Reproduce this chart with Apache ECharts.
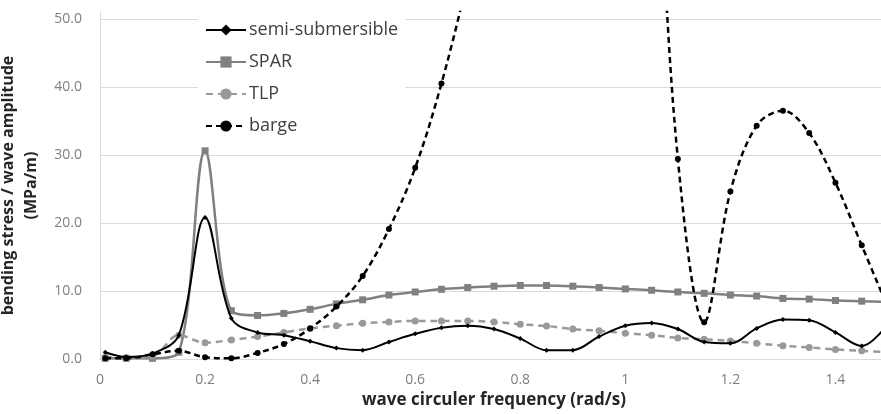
<!DOCTYPE html>
<html>
<head>
<meta charset="utf-8">
<script src="https://cdn.jsdelivr.net/npm/echarts@6/dist/echarts.min.js"></script>
<style>
html,body{margin:0;padding:0;background:#fff;}
#chart{width:881px;height:414px;}
</style>
</head>
<body>
<div id="chart"></div>
<script>
const freq = [0.01,0.05,0.1,0.15,0.2,0.25,0.3,0.35,0.4,0.45,0.5,0.55,0.6,0.65,0.7,0.75,0.8,0.85,0.9,0.95,1.0,1.05,1.1,1.15,1.2,1.25,1.3,1.35,1.4,1.45,1.5];
const semiSub = [1.0,0.3,0.8,3.5,20.8,6.0,3.9,3.5,2.6,1.6,1.3,2.5,3.7,4.6,4.9,4.4,3.0,1.3,1.3,3.3,4.9,5.3,4.4,2.5,2.3,4.5,5.8,5.7,3.9,1.9,5.2];
const spar = [0.1,0.1,0.1,1.0,30.6,7.1,6.4,6.7,7.3,8.1,8.7,9.4,9.85,10.25,10.5,10.7,10.8,10.8,10.7,10.5,10.3,10.1,9.85,9.65,9.4,9.25,8.9,8.8,8.6,8.5,8.4];
const tlp = [0.3,0.2,0.4,3.5,2.4,2.8,3.3,3.9,4.5,4.9,5.25,5.45,5.6,5.6,5.6,5.45,5.1,4.85,4.4,4.15,3.8,3.5,3.1,2.9,2.65,2.3,1.95,1.7,1.4,1.2,1.0];
const barge = [0.1,0.1,0.7,1.2,0.25,0.1,0.9,2.2,4.5,7.7,12.2,19.1,28.1,40.5,56,75,100,125,140,130,110,85,29.4,5.4,24.6,34.3,36.5,33.2,25.9,16.7,7.5];
const xTicks = {min:0, max:1.5, interval:0.2};
const yTicks = {min:0, max:51, interval:10};
const seriesNames = ['semi-submersible','SPAR','TLP','barge'];

function pairs(ys){ return freq.map((f,i)=>[f, ys[i]]); }

const chart = echarts.init(document.getElementById('chart'));
const font = "'Open Sans', 'Noto Sans', sans-serif";
chart.setOption({
  animation:false,
  backgroundColor:'#fff',
  grid:{left:100, width:788, top:12, height:347, containLabel:false, outerBoundsMode:'none'},
  legend:{
    orient:'vertical', left:198, top:13,
    padding:[8,7,8,7], itemGap:14, itemWidth:40, itemHeight:14,
    backgroundColor:'#fff',
    textStyle:{fontFamily:font, fontSize:18, color:'#404040', padding:[0,0,0,-2]},
    data:seriesNames
  },
  xAxis:{
    type:'value', min:xTicks.min, max:xTicks.max, interval:xTicks.interval,
    name:'wave circuler frequency (rad/s)', nameLocation:'middle', nameGap:33,
    nameTextStyle:{fontFamily:font, fontSize:17, fontWeight:'bold', color:'#262626'},
    axisLine:{show:true, lineStyle:{color:'#d9d9d9', width:1}},
    axisTick:{show:false},
    splitLine:{show:false},
    axisLabel:{fontFamily:font, fontSize:14, color:'#7f7f7f', margin:14, showMaxLabel:false,
      formatter:v=>String(Math.round(v*10)/10)}
  },
  yAxis:{
    type:'value', min:yTicks.min, max:yTicks.max, interval:yTicks.interval,
    name:'bending stress / wave amplitude\n(MPa/m)', nameLocation:'middle', nameGap:52, nameRotate:90,
    nameTextStyle:{fontFamily:font, fontSize:16, fontWeight:'bold', color:'#262626', lineHeight:23},
    axisLine:{show:true, lineStyle:{color:'#d9d9d9', width:1}},
    axisTick:{show:false},
    splitLine:{show:true, showMaxLine:false, lineStyle:{color:'#d9d9d9', width:1}},
    axisLabel:{fontFamily:font, fontSize:14, color:'#7f7f7f', margin:18, showMaxLabel:false,
      formatter:v=> (v%10===0 ? v.toFixed(1) : '')}
  },
  series:[
    {name:seriesNames[0], type:'line', data:pairs(semiSub), smooth:0.35, z:5,
     symbol:'diamond', symbolSize:5, showAllSymbol:true,
     lineStyle:{color:'#000', width:2}, itemStyle:{color:'#000'}},
    {name:seriesNames[1], type:'line', data:pairs(spar), smooth:0.35, z:3,
     symbol:'rect', symbolSize:7, showAllSymbol:true,
     lineStyle:{color:'#808080', width:2.5}, itemStyle:{color:'#808080'}},
    {name:seriesNames[2], type:'line', data:pairs(tlp), smooth:0.35, z:3,
     symbol:'circle', symbolSize:7, showAllSymbol:true,
     lineStyle:{color:'#999', width:2.5, type:[7,5]}, itemStyle:{color:'#999'}},
    {name:seriesNames[3], type:'line', data:pairs(barge), smooth:0.35, z:4,
     symbol:'circle', symbolSize:6, showAllSymbol:true,
     lineStyle:{color:'#000', width:2.5, type:[6,4]}, itemStyle:{color:'#000'}}
  ]
});
</script>
</body>
</html>
